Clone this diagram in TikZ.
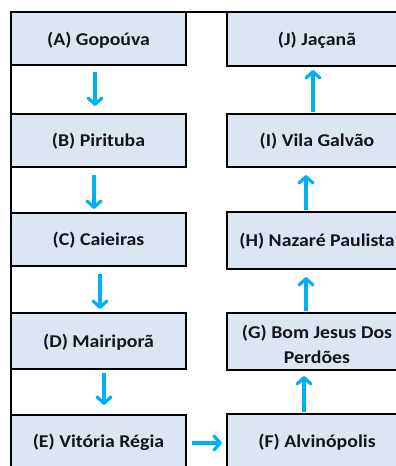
\documentclass[tikz,border=0pt]{standalone}
\usepackage{fontspec}
\setmainfont{Carlito}
\usetikzlibrary{arrows.meta}
\definecolor{boxfill}{HTML}{DCE6F2}
\definecolor{arrowblue}{HTML}{00B0F0}
\definecolor{txt}{HTML}{14141E}
\tikzset{
  cell/.style={draw=black, line width=2.4pt, fill=boxfill},
  lbl/.style={font=\fontsize{18}{25}\selectfont\bfseries, text=txt, align=center, xscale=1.1, inner sep=0pt},
  arr/.style={draw=arrowblue, line width=3.2pt, -{Straight Barb[length=6.5pt,width=14pt,line width=3.2pt,round]}},
}
\begin{document}
\begin{tikzpicture}[x=1pt,y=-1pt]
\useasboundingbox (0,0) rectangle (396,466);
\begin{scope}
\clip (0,0) rectangle (396,466);
% outer frame
\draw[line width=2.4pt] (11,480) -- (11,12) -- (420,12);
% left column
\path[cell] (11,12) rectangle (186,65);
\path[cell] (11,114) rectangle (186,167);
\path[cell] (11,213) rectangle (186,266);
\path[cell] (11,313) rectangle (186,369);
\path[cell] (11,415) rectangle (186,480);
% right column
\path[cell] (227,12) rectangle (407,66);
\path[cell] (227,114) rectangle (407,167);
\path[cell] (227,212) rectangle (407,269);
\path[cell] (227,313) rectangle (407,370);
\path[cell] (227,414) rectangle (407,480);
\end{scope}
\node[lbl] (A) at (98.5,40) {(A) Gopoúva};
\node[lbl] (B) at (98.5,141) {(B) Pirituba};
\node[lbl] (C) at (98.5,240) {(C) Caieiras};
\node[lbl] (D) at (98.5,342) {(D) Mairiporã};
\node[lbl] (E) at (98.5,442) {(E) Vitória Régia};
\node[lbl] (J) at (317,40) {(J) Jaçanã};
\node[lbl] (I) at (317,141) {(I) Vila Galvão};
\node[lbl] (H) at (317,241) {(H) Nazaré Paulista};
\node[lbl] (G) at (317,344) {(G) Bom Jesus Dos\\Perdões};
\node[lbl] (F) at (317,442) {(F) Alvinópolis};
% arrows
\coordinate (ab1) at (95,72);  \coordinate (ab2) at (95,106);
\coordinate (bc1) at (94,175); \coordinate (bc2) at (94,209);
\coordinate (cd1) at (100,274); \coordinate (cd2) at (100,309);
\coordinate (de1) at (104,373); \coordinate (de2) at (104,405);
\coordinate (ef1) at (192,443); \coordinate (ef2) at (222,443);
\coordinate (fg1) at (304,412); \coordinate (fg2) at (304,376);
\coordinate (gh1) at (306,311); \coordinate (gh2) at (306,277);
\coordinate (hi1) at (306,210); \coordinate (hi2) at (306,175);
\coordinate (ij1) at (313,112); \coordinate (ij2) at (313,70);
\foreach \s/\t in {ab1/ab2,bc1/bc2,cd1/cd2,de1/de2,ef1/ef2,fg1/fg2,gh1/gh2,hi1/hi2,ij1/ij2}
  \draw[arr] (\s) -- (\t);
\end{tikzpicture}
\end{document}
